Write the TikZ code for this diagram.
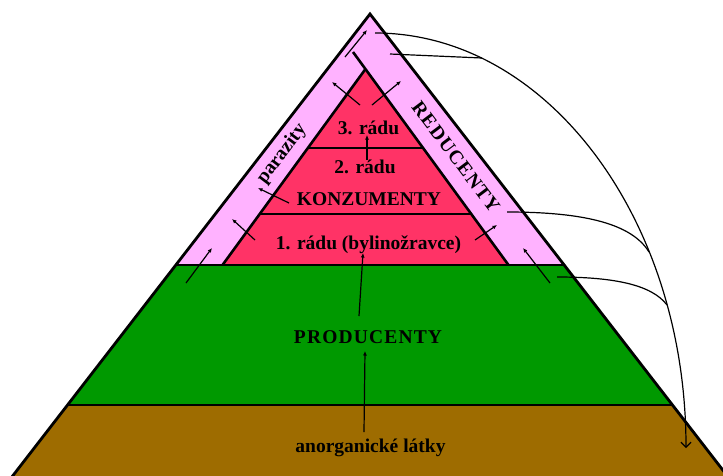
\documentclass[tikz,border=0pt]{standalone}
\usepackage{fontspec}
\setmainfont{Liberation Serif}
\usetikzlibrary{arrows.meta}
\definecolor{pinkband}{RGB}{255,178,255}
\definecolor{redlayer}{RGB}{255,51,102}
\definecolor{greenlayer}{RGB}{0,153,0}
\definecolor{brownlayer}{RGB}{158,108,0}
\begin{document}
\begin{tikzpicture}[x=1pt,y=-1pt,
  edge/.style={line width=2.8pt, line join=miter},
  inner/.style={line width=2.6pt},
  thinarrow/.style={line width=1.2pt, -{Latex[length=4.5pt,width=4pt]}},
  flow/.style={line width=1.2pt},
  lbl/.style={font=\fontsize{19.5}{22}\selectfont\bfseries, inner sep=0pt, anchor=base},
  rlbl/.style={font=\fontsize{19.5}{22}\selectfont\bfseries, inner sep=0pt},
  spaced/.style={execute at begin node=\addfontfeature{LetterSpace=6}}
]
\useasboundingbox (0,0) rectangle (723,475);
\clip (0,0) rectangle (723,475);
% layer fills
\fill[brownlayer] (67.4,405) -- (672.6,405) -- (730.5,480) -- (9.5,480) -- cycle;
\fill[greenlayer] (175.5,265) -- (564.5,265) -- (672.6,405) -- (67.4,405) -- cycle;
\fill[pinkband] (370,14) -- (564.5,265) -- (175.5,265) -- cycle;
\fill[redlayer] (365.5,69) -- (508.5,265) -- (222.5,265) -- cycle;
% outlines
\draw[edge] (9.5,480) -- (370,14) -- (730.5,480);
\draw[inner] (175.5,265) -- (564.5,265);
\draw[inner] (67.4,405) -- (672.6,405);
\draw[inner] (365.5,69) -- (222.5,265);
\draw[inner] (353,52) -- (508.5,265);
\draw[inner] (307.8,148) -- (423.2,148);
\draw[inner] (259.6,214) -- (471.4,214);
% named points
\coordinate (a1s) at (345,57);   \coordinate (a1e) at (367,30);
\coordinate (s1s) at (360,105);  \coordinate (s1e) at (332,82);
\coordinate (s2s) at (372,105);  \coordinate (s2e) at (401,81);
\coordinate (s3s) at (367,160);  \coordinate (s3e) at (367,135);
\coordinate (s4s) at (289,203);  \coordinate (s4e) at (258,188);
\coordinate (s5s) at (255,240);  \coordinate (s5e) at (232,219);
\coordinate (s6s) at (186,283);  \coordinate (s6e) at (212,248);
\coordinate (s7s) at (475,240);  \coordinate (s7e) at (497,225);
\coordinate (s8s) at (550,283);  \coordinate (s8e) at (523,248);
\coordinate (s9s) at (359,316);  \coordinate (s9e) at (363,253);
\coordinate (s10s) at (364,432); \coordinate (s10e) at (365,351);
\coordinate (ms) at (375,33);    \coordinate (me) at (686,448);
\coordinate (m1) at (546.8,33);  \coordinate (m2) at (686,218.8);
\coordinate (l2s) at (390,54);   \coordinate (l2e) at (482,58);
\coordinate (l3s) at (507,212);  \coordinate (l3e) at (649,252);
\coordinate (l4s) at (557,277);  \coordinate (l4e) at (667,305);
% small arrows
\foreach \n in {a1,s1,s2,s3,s4,s5,s6,s7,s8,s9,s10}
  \draw[thinarrow] (\n s) -- (\n e);
% decomposition flows
\draw[flow, -{Straight Barb[length=5pt,width=10pt]}] (ms) .. controls (m1) and (m2) .. (me);
\draw[flow] (l2s) -- (l2e);
\draw[flow] (l3s) .. controls (585,212) and (632,224) .. (l3e);
\draw[flow] (l4s) .. controls (615,277) and (652,285) .. (l4e);
% labels
\node[lbl] (r3) at (368.5,134) {3. rádu};
\node[lbl] (r2) at (365,173) {2. rádu};
\node[lbl] (konz) at (369,205) {KONZUMENTY};
\node[lbl] (r1) at (368.5,249) {1. rádu (bylinožravce)};
\node[lbl, spaced] (prod) at (368,343) {PRODUCENTY};
\node[lbl] (anorg) at (370.5,452) {anorganické látky};
\node[rlbl, rotate=53] (paraz) at (282,154) {parazity};
\node[rlbl, spaced, rotate=-53] (reduc) at (456,157) {REDUCENTY};
\end{tikzpicture}
\end{document}
